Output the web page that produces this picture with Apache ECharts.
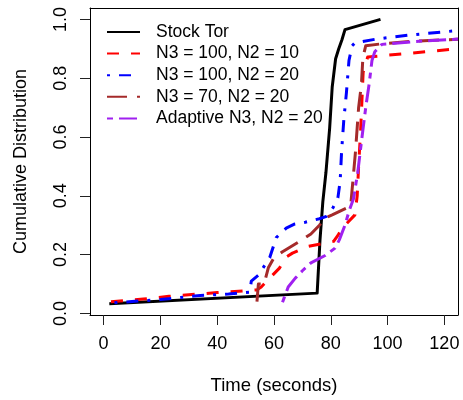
<!DOCTYPE html>
<html>
<head>
<meta charset="utf-8">
<script src="https://cdn.jsdelivr.net/npm/echarts@6/dist/echarts.min.js"></script>
<style>
  html, body { margin: 0; padding: 0; background: #fff; }
  #chart { width: 463px; height: 400px; }
</style>
</head>
<body>
<div id="chart"></div>
<script>
// Download-time CDFs: [seconds, cumulative fraction]
const stockTor = [[2,0.033],[75.2,0.069],[76.2,0.25],[77.2,0.38],[78.3,0.48],[79.6,0.63],[80.5,0.77],[81.7,0.866],[82.8,0.9],[83.9,0.93],[85,0.965],[97.5,1.0]];
const n3_100_n2_10 = [[2.6,0.04],[14,0.049],[23,0.058],[31,0.064],[40,0.071],[50,0.077],[54,0.08],[55.5,0.09],[58,0.115],[62,0.155],[64,0.19],[66.5,0.205],[72,0.228],[77,0.237],[81,0.245],[82.5,0.265],[84,0.29],[88.5,0.335],[89.3,0.4],[89.8,0.5],[90.5,0.62],[91.4,0.82],[93,0.872],[100,0.878],[124.8,0.9]];
const n3_100_n2_20 = [[3.8,0.036],[12,0.042],[20,0.047],[34,0.061],[44,0.066],[51.5,0.072],[52,0.11],[54.5,0.13],[58.5,0.19],[60.8,0.258],[64.3,0.29],[67,0.303],[71,0.31],[76,0.322],[78.5,0.33],[80.8,0.36],[82.5,0.393],[83.3,0.45],[83.8,0.55],[84.6,0.66],[85.5,0.75],[86.4,0.86],[87.5,0.91],[88.5,0.92],[96,0.933],[108,0.947],[124.8,0.962]];
const n3_70_n2_20 = [[54,0.04],[54.5,0.1],[56.5,0.1],[58,0.155],[60,0.19],[63,0.21],[69,0.245],[73,0.27],[76,0.3],[78,0.325],[80.5,0.335],[87,0.365],[87.5,0.42],[88.7,0.55],[89.8,0.7],[90.8,0.78],[91.3,0.87],[92.3,0.91],[98,0.917],[109,0.926],[124.8,0.932]];
const adaptiveN3 = [[63,0.038],[65,0.09],[67.5,0.12],[70,0.145],[73,0.172],[78,0.197],[81.5,0.222],[83,0.25],[85,0.3],[86.5,0.35],[88,0.39],[89.5,0.48],[91,0.6],[92.3,0.7],[93.5,0.78],[94.5,0.86],[95.5,0.89],[98,0.915],[110,0.925],[124.8,0.933]];

const seriesNames = ['Stock Tor', 'N3 = 100, N2 = 10', 'N3 = 100, N2 = 20', 'N3 = 70, N2 = 20', 'Adaptive N3, N2 = 20'];
const xTicks = [0, 20, 40, 60, 80, 100, 120];
const yTicks = [0, 0.2, 0.4, 0.6, 0.8, 1.0];

const FONT = 'Liberation Sans, Arial, Helvetica, sans-serif';
const X_RANGE = { min: -4.8, max: 124.8 };
const Y_RANGE = { min: -0.0054, max: 1.0387 };
const frameLine = { show: true, onZero: false, lineStyle: { color: '#000', width: 1 } };

function lineSeries(name, data, color, dash) {
  return {
    name: name,
    type: 'line',
    data: data,
    symbol: 'none',
    animation: false,
    clip: true,
    lineStyle: { color: color, width: 3, type: dash, cap: 'butt', join: 'round' },
    itemStyle: { color: color }
  };
}

// Axes that only draw the top and right sides of the frame
function frameOnlyAxis(extra) {
  return Object.assign({
    type: 'value',
    axisLine: frameLine,
    axisTick: { show: false },
    axisLabel: { show: false },
    splitLine: { show: false }
  }, extra);
}

const chart = echarts.init(document.getElementById('chart'), null, { renderer: 'canvas' });
chart.setOption({
  backgroundColor: '#ffffff',
  animation: false,
  grid: { left: 90, right: 5, top: 8, bottom: 82 },
  legend: {
    orient: 'vertical',
    left: 106, top: 22,
    padding: 0,
    itemGap: 1.6,
    itemWidth: 33,
    itemHeight: 20,
    data: seriesNames,
    itemStyle: { opacity: 0 },
    textStyle: { fontFamily: FONT, fontSize: 17.5, color: '#000', lineHeight: 20, padding: [0, 0, 0, 11] }
  },
  xAxis: [{
    type: 'value',
    position: 'bottom',
    min: X_RANGE.min, max: X_RANGE.max,
    name: 'Time (seconds)',
    nameLocation: 'middle',
    nameGap: 61,
    nameTextStyle: { fontFamily: FONT, fontSize: 18.5, color: '#000' },
    axisLine: frameLine,
    axisTick: { show: true, length: 10, inside: false, customValues: xTicks, lineStyle: { color: '#222', width: 1 } },
    axisLabel: { customValues: xTicks, fontFamily: FONT, fontSize: 18, color: '#000', margin: 20 },
    splitLine: { show: false }
  }, frameOnlyAxis({ position: 'top', min: X_RANGE.min, max: X_RANGE.max })],
  yAxis: [{
    type: 'value',
    position: 'left',
    min: Y_RANGE.min, max: Y_RANGE.max,
    name: 'Cumulative Distribution',
    nameLocation: 'middle',
    nameGap: 60,
    nameTextStyle: { fontFamily: FONT, fontSize: 18, color: '#000' },
    axisLine: frameLine,
    axisTick: { show: true, length: 10, inside: false, customValues: yTicks, lineStyle: { color: '#222', width: 1 } },
    axisLabel: {
      customValues: yTicks, rotate: 90, fontFamily: FONT, fontSize: 18, color: '#000', margin: 20,
      formatter: function (v) { return v.toFixed(1); }
    },
    splitLine: { show: false }
  }, frameOnlyAxis({ position: 'right', min: Y_RANGE.min, max: Y_RANGE.max })],
  series: [
    lineSeries(seriesNames[0], stockTor, '#000000', 'solid'),
    lineSeries(seriesNames[1], n3_100_n2_10, '#FF0000', [12, 12]),
    lineSeries(seriesNames[2], n3_100_n2_20, '#0000FF', [3, 9, 12, 9]),
    lineSeries(seriesNames[3], n3_70_n2_20, '#A52A2A', [20, 10]),
    lineSeries(seriesNames[4], adaptiveN3, '#A020F0', [6, 6, 18, 6])
  ]
});
</script>
</body>
</html>
